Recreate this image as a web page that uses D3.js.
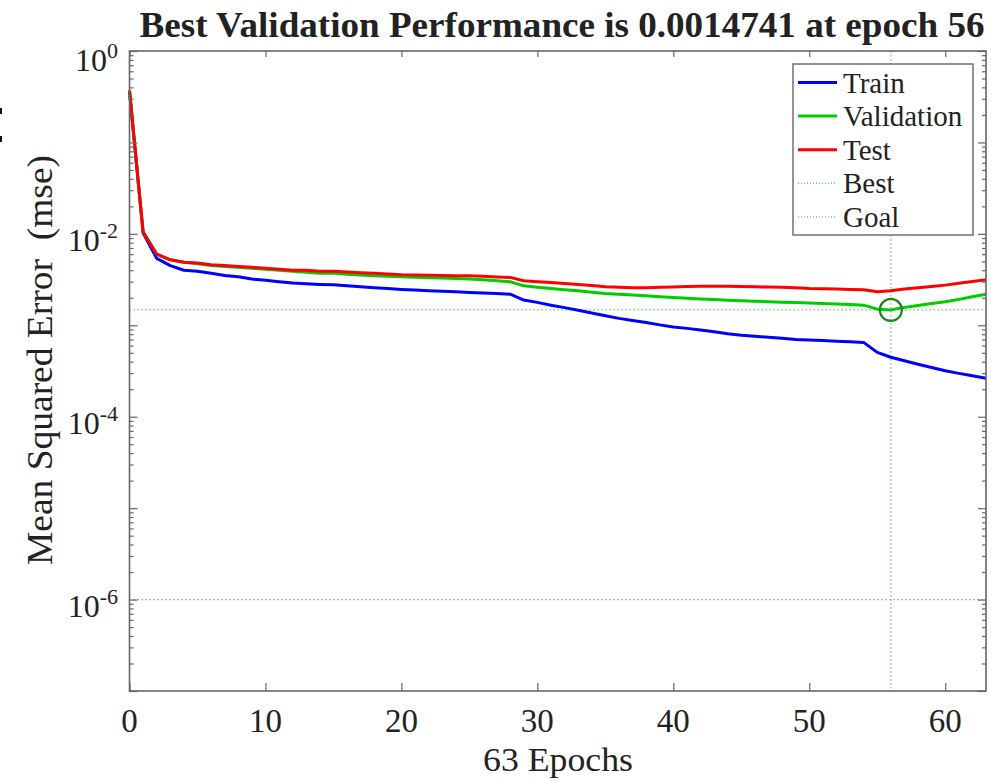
<!DOCTYPE html>
<html>
<head>
<meta charset="utf-8">
<script src="https://cdn.jsdelivr.net/npm/d3@7"></script>
<style>
  html, body { margin: 0; padding: 0; background: #fff; }
  svg text { font-family: "Liberation Serif", "Times New Roman", serif; fill: #222; }
</style>
</head>
<body>
<div id="chart"></div>
<script>
// ================================
// Data
// ================================
const epochs = d3.range(0, 64);

const trainMse = [
  0.365, 0.0102, 0.0054, 0.0045, 0.0040, 0.0039, 0.0037, 0.0035, 0.0034, 0.0032,
  0.0031, 0.0030, 0.0029, 0.00285, 0.0028, 0.00277, 0.0027, 0.00264, 0.00258, 0.00252,
  0.00247, 0.00243, 0.00239, 0.00235, 0.00232, 0.00229, 0.00225, 0.00222, 0.00219, 0.00189,
  0.00178, 0.00166, 0.00156, 0.00146, 0.00136, 0.00127, 0.00119, 0.00113, 0.00107, 0.00101,
  0.00096, 0.000925, 0.00089, 0.00085, 0.00081, 0.00078, 0.00076, 0.00074, 0.00072, 0.00070,
  0.00069, 0.00068, 0.00067, 0.00066, 0.00065, 0.000505, 0.000447, 0.00041, 0.000375, 0.000345,
  0.000318, 0.000298, 0.00028, 0.000264
];

const validationMse = [
  0.365, 0.0105, 0.0060, 0.0052, 0.0049, 0.0047, 0.0045, 0.0044, 0.0043, 0.0042,
  0.0041, 0.0040, 0.0039, 0.0038, 0.0037, 0.0037, 0.00362, 0.00355, 0.00348, 0.00343,
  0.0034, 0.00336, 0.00332, 0.00328, 0.00324, 0.0032, 0.00314, 0.00307, 0.00299, 0.0027,
  0.0026, 0.00252, 0.00245, 0.00238, 0.0023, 0.00223, 0.00218, 0.00214, 0.0021, 0.00205,
  0.00201, 0.00197, 0.00194, 0.00191, 0.00188, 0.00185, 0.00183, 0.00181, 0.00179, 0.00177,
  0.00175, 0.00173, 0.00171, 0.00169, 0.00166, 0.0015, 0.0014741, 0.00157, 0.00165, 0.00173,
  0.00181, 0.00192, 0.00205, 0.00218
];

const testMse = [
  0.37, 0.0105, 0.0060, 0.0052, 0.0049, 0.0048, 0.0046, 0.0045, 0.0044, 0.0043,
  0.0042, 0.0041, 0.0040, 0.0040, 0.0039, 0.0039, 0.00383, 0.00376, 0.0037, 0.00363,
  0.00357, 0.00355, 0.00353, 0.0035, 0.00349, 0.00348, 0.00343, 0.00338, 0.00334, 0.00307,
  0.0030, 0.00293, 0.00286, 0.0028, 0.00272, 0.00264, 0.0026, 0.00258, 0.00258, 0.0026,
  0.00263, 0.00266, 0.00267, 0.00268, 0.00267, 0.00266, 0.00264, 0.00262, 0.0026, 0.00257,
  0.00253, 0.00251, 0.00249, 0.00247, 0.00245, 0.00233, 0.00239, 0.00249, 0.00257, 0.00266,
  0.00275, 0.00288, 0.00301, 0.00315
];

const bestEpoch = 56;
const bestPerf = 0.0014741;
const goal = 1e-6;

const xTicks = [0, 10, 20, 30, 40, 50, 60];
const yLabelExps = [0, -2, -4, -6];

const legendItems = [
  { name: 'Train', color: '#0000ff', dash: null },
  { name: 'Validation', color: '#00cc00', dash: null },
  { name: 'Test', color: '#ff0000', dash: null },
  { name: 'Best', color: '#66cc66', dash: '1,2' },
  { name: 'Goal', color: '#9a9a9a', dash: '1,2' }
];

// ================================
// Layout
// ================================
const W = 991, H = 781;
const plot = { left: 129.5, right: 986, top: 51, bottom: 691 };
const axisColor = '#666';

const svg = d3.select('#chart').append('svg')
  .attr('width', W)
  .attr('height', H);

const x = d3.scaleLinear().domain([0, 63]).range([plot.left, plot.right]);
const y = d3.scaleLog().domain([1e-7, 1]).range([plot.bottom, plot.top]);

// stray marks at the far left edge of the source image
svg.append('rect').attr('x', 0).attr('y', 108).attr('width', 2).attr('height', 6).attr('fill', '#111');
svg.append('rect').attr('x', 0).attr('y', 136).attr('width', 2).attr('height', 6).attr('fill', '#111');

// Goal and best reference lines
svg.append('line')
  .attr('x1', plot.left).attr('x2', plot.right)
  .attr('y1', y(goal)).attr('y2', y(goal))
  .attr('stroke', '#9a9a9a').attr('stroke-width', 1.2)
  .attr('stroke-dasharray', '1.5,2.5');

svg.append('line')
  .attr('x1', plot.left).attr('x2', plot.right)
  .attr('y1', y(bestPerf)).attr('y2', y(bestPerf))
  .attr('stroke', '#66cc66').attr('stroke-width', 1.2)
  .attr('stroke-dasharray', '1.5,2.5');

svg.append('line')
  .attr('x1', x(bestEpoch)).attr('x2', x(bestEpoch))
  .attr('y1', plot.top).attr('y2', plot.bottom)
  .attr('stroke', '#66cc66').attr('stroke-width', 1.2)
  .attr('stroke-dasharray', '1.5,2.5');

// Series lines
const line = d3.line()
  .x((d, i) => x(epochs[i]))
  .y(d => y(d));

[[trainMse, '#0000ff'], [validationMse, '#00cc00'], [testMse, '#ff0000']].forEach(([vals, color]) => {
  svg.append('path')
    .datum(vals)
    .attr('fill', 'none')
    .attr('stroke', color)
    .attr('stroke-width', 3)
    .attr('stroke-linejoin', 'round')
    .attr('d', line);
});

// Best marker
svg.append('circle')
  .attr('cx', x(bestEpoch))
  .attr('cy', y(bestPerf))
  .attr('r', 11)
  .attr('fill', 'none')
  .attr('stroke', '#1f861f')
  .attr('stroke-width', 2.2);

// ================================
// Axes (ticks pointing inward, MATLAB box)
// ================================
const majorY = d3.range(-7, 1).map(e => Math.pow(10, e));
const minorY = [];
for (let e = -7; e < 0; e++) {
  for (let k = 2; k <= 9; k++) minorY.push(k * Math.pow(10, e));
}

function styleAxis(g) {
  g.select('.domain').remove();
  g.selectAll('.tick line').attr('stroke', axisColor).attr('stroke-width', 1.2);
  g.selectAll('.tick text').remove();
}

svg.append('g')
  .attr('transform', `translate(0,${plot.bottom})`)
  .call(d3.axisBottom(x).tickValues(xTicks).tickSize(-8))
  .call(styleAxis);

svg.append('g')
  .attr('transform', `translate(0,${plot.top})`)
  .call(d3.axisTop(x).tickValues(xTicks).tickSize(-6))
  .call(styleAxis);

svg.append('g')
  .attr('transform', `translate(${plot.left},0)`)
  .call(d3.axisLeft(y).tickValues(majorY).tickSize(-8))
  .call(styleAxis);

svg.append('g')
  .attr('transform', `translate(${plot.left},0)`)
  .call(d3.axisLeft(y).tickValues(minorY).tickSize(-4))
  .call(styleAxis);

svg.append('g')
  .attr('transform', `translate(${plot.right},0)`)
  .call(d3.axisRight(y).tickValues(majorY).tickSize(-8))
  .call(styleAxis);

svg.append('g')
  .attr('transform', `translate(${plot.right},0)`)
  .call(d3.axisRight(y).tickValues(minorY).tickSize(-4))
  .call(styleAxis);

// Box
svg.append('rect')
  .attr('x', plot.left).attr('y', plot.top)
  .attr('width', plot.right - plot.left)
  .attr('height', plot.bottom - plot.top)
  .attr('fill', 'none')
  .attr('stroke', axisColor)
  .attr('stroke-width', 1.6);

// X tick labels
xTicks.forEach(t => {
  svg.append('text')
    .attr('x', x(t))
    .attr('y', plot.bottom + 41)
    .attr('text-anchor', 'middle')
    .attr('font-size', '33px')
    .text(t);
});

// Y tick labels with superscript exponents
yLabelExps.forEach(e => {
  const ty = y(Math.pow(10, e));
  const t = svg.append('text')
    .attr('x', 118)
    .attr('y', ty + (e === 0 ? 20 : 17))
    .attr('text-anchor', 'end')
    .attr('font-size', '32px');
  t.append('tspan').text('10');
  t.append('tspan')
    .attr('font-size', '22px')
    .attr('dy', -13)
    .text(String(e));
});

// Title and axis labels
svg.append('text')
  .attr('x', 562)
  .attr('y', 37)
  .attr('text-anchor', 'middle')
  .attr('font-size', '36px')
  .attr('font-weight', 'bold')
  .attr('textLength', 845)
  .attr('lengthAdjust', 'spacingAndGlyphs')
  .text(`Best Validation Performance is ${bestPerf} at epoch ${bestEpoch}`);

svg.append('text')
  .attr('x', 558)
  .attr('y', 771)
  .attr('text-anchor', 'middle')
  .attr('font-size', '34px')
  .attr('textLength', 150)
  .attr('lengthAdjust', 'spacingAndGlyphs')
  .text('63 Epochs');

svg.append('text')
  .attr('transform', 'translate(52,360) rotate(-90)')
  .attr('text-anchor', 'middle')
  .attr('font-size', '36px')
  .attr('textLength', 410)
  .attr('lengthAdjust', 'spacingAndGlyphs')
  .style('white-space', 'pre')
  .text('Mean Squared Error  (mse)');

// ================================
// Legend
// ================================
const legend = svg.append('g').attr('transform', 'translate(793,64)');

legend.append('rect')
  .attr('width', 180)
  .attr('height', 171)
  .attr('fill', '#fff')
  .attr('stroke', axisColor)
  .attr('stroke-width', 1.4);

legendItems.forEach((d, i) => {
  const ly = 18.5 + i * 33.6;
  legend.append('line')
    .attr('x1', 5).attr('x2', 44)
    .attr('y1', ly).attr('y2', ly)
    .attr('stroke', d.color)
    .attr('stroke-width', d.dash ? 1.4 : 3)
    .attr('stroke-dasharray', d.dash);
  legend.append('text')
    .attr('x', 50)
    .attr('y', ly + 10)
    .attr('font-size', '29px')
    .text(d.name);
});
</script>
</body>
</html>
